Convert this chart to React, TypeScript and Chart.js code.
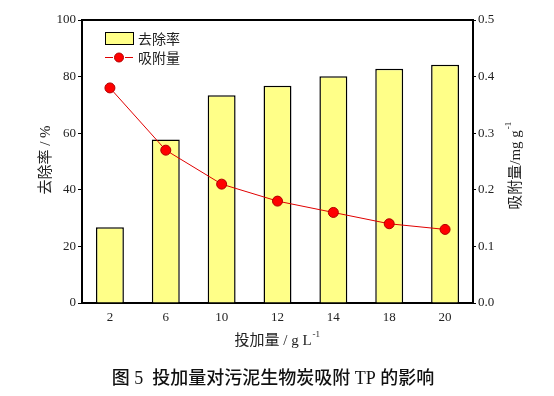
import React, { useEffect, useRef } from 'react';
import { Chart, registerables } from 'chart.js';
Chart.register(...registerables);

const categories = ['2', '6', '10', '12', '14', '18', '20'];
const removalRate = [26.8, 57.8, 73.4, 76.8, 80.1, 82.8, 84.2];
const adsorption = [0.38, 0.27, 0.21, 0.18, 0.16, 0.14, 0.13];
const barLabel = '去除率';
const lineLabel = '吸附量';
const leftTitle = '去除率 / %';
const rightTitle = '吸附量/mg g';
const xTitle = '投加量 / g L';
const caption = '图 5  投加量对污泥生物炭吸附 TP 的影响';

const SERIF = "'Liberation Serif', 'Times New Roman', 'Noto Sans CJK SC', serif";
const CJK = "'Noto Sans CJK SC', 'Liberation Sans', sans-serif";

const decorPlugin = {
  id: 'decor',
  afterDraw(chart: any) {
    const { ctx, chartArea } = chart;
    const { left, right, top } = chartArea;
    ctx.save();
    // top border
    ctx.strokeStyle = '#000';
    ctx.lineWidth = 2;
    ctx.beginPath();
    ctx.moveTo(left - 1, top);
    ctx.lineTo(right + 1, top);
    ctx.stroke();

    // legend
    const lx = left + 23;
    ctx.fillStyle = 'rgb(255,255,136)';
    ctx.fillRect(lx, 32, 28, 12);
    ctx.strokeStyle = '#000';
    ctx.lineWidth = 1;
    ctx.strokeRect(lx + 0.5, 32.5, 28, 12);
    ctx.fillStyle = '#222';
    ctx.font = `14px ${CJK}`;
    ctx.textAlign = 'left';
    ctx.textBaseline = 'middle';
    ctx.fillText(barLabel, lx + 33, 38.5);
    ctx.strokeStyle = '#e00000';
    ctx.beginPath();
    ctx.moveTo(lx, 57.5);
    ctx.lineTo(lx + 8, 57.5);
    ctx.moveTo(lx + 20, 57.5);
    ctx.lineTo(lx + 28, 57.5);
    ctx.stroke();
    ctx.fillStyle = '#ff0000';
    ctx.beginPath();
    ctx.arc(lx + 14, 57.5, 4.5, 0, Math.PI * 2);
    ctx.fill();
    ctx.strokeStyle = '#b00000';
    ctx.stroke();
    ctx.fillStyle = '#222';
    ctx.fillText(lineLabel, lx + 33, 57.5);

    // left title
    ctx.save();
    ctx.translate(46, 160);
    ctx.rotate(-Math.PI / 2);
    ctx.textAlign = 'center';
    ctx.font = `15px ${SERIF}`;
    ctx.fillStyle = '#222';
    ctx.fillText(leftTitle, 0, 0);
    ctx.restore();

    // right title
    ctx.save();
    ctx.translate(516, 166);
    ctx.rotate(-Math.PI / 2);
    ctx.font = `15px ${SERIF}`;
    ctx.fillStyle = '#222';
    const rw = ctx.measureText(rightTitle).width;
    ctx.textAlign = 'left';
    ctx.fillText(rightTitle, -rw / 2 - 4, 0);
    ctx.font = `9px ${SERIF}`;
    ctx.fillText('-1', rw / 2 - 3, -7);
    ctx.restore();

    // x title
    ctx.font = `15px ${SERIF}`;
    ctx.fillStyle = '#222';
    const xw = ctx.measureText(xTitle).width;
    const xs = 277 - xw / 2 - 4;
    ctx.textAlign = 'left';
    ctx.fillText(xTitle, xs, 341);
    ctx.font = `9px ${SERIF}`;
    ctx.fillText('-1', xs + xw + 1, 335);

    // caption
    ctx.font = `500 18px ${SERIF}`;
    ctx.textAlign = 'center';
    ctx.fillStyle = '#111';
    ctx.fillText(caption, 273, 379);
    ctx.restore();
  },
};

export default function App() {
  const ref = useRef<HTMLCanvasElement>(null);
  useEffect(() => {
    document.body.style.margin = '0';
    const chart = new Chart(ref.current as HTMLCanvasElement, {
      type: 'bar',
      data: {
        labels: categories,
        datasets: [
          {
            type: 'line',
            label: lineLabel,
            data: adsorption,
            yAxisID: 'y1',
            borderColor: '#e00000',
            borderWidth: 1,
            backgroundColor: '#ff0000',
            pointBackgroundColor: '#ff0000',
            pointBorderColor: '#b00000',
            pointBorderWidth: 1,
            pointRadius: 5,
            tension: 0,
            order: 0,
          } as any,
          {
            type: 'bar',
            label: barLabel,
            data: removalRate,
            yAxisID: 'y',
            backgroundColor: 'rgb(255,255,136)',
            borderColor: '#000',
            borderWidth: 1.5,
            barPercentage: 0.5,
            categoryPercentage: 1,
            order: 1,
          },
        ],
      },
      options: {
        responsive: false,
        animation: false,
        layout: { padding: { left: 0, right: 0, top: 20, bottom: 0 } },
        plugins: { legend: { display: false }, tooltip: { enabled: false } },
        scales: {
          x: {
            offset: true,
            grid: { display: false, drawTicks: false },
            border: { color: '#000', width: 2 },
            ticks: { color: '#222', font: { family: SERIF, size: 13 }, padding: 7 },
            afterFit(s: any) { s.height = 93; },
          },
          y: {
            position: 'left',
            min: 0,
            max: 100,
            grid: { drawOnChartArea: false, tickLength: 4, color: '#000', lineWidth: 1 },
            border: { color: '#000', width: 2 },
            ticks: { stepSize: 20, color: '#222', font: { family: SERIF, size: 13 }, padding: 2 },
            afterFit(s: any) { s.width = 82; },
          },
          y1: {
            position: 'right',
            min: 0,
            max: 0.5,
            grid: { drawOnChartArea: false, tickLength: 3, color: '#000', lineWidth: 1 },
            border: { color: '#000', width: 2 },
            ticks: {
              stepSize: 0.1,
              color: '#222',
              font: { family: SERIF, size: 13 },
              padding: 2,
              callback: (v: any) => Number(v).toFixed(1),
            },
            afterFit(s: any) { s.width = 81; },
          },
        },
      },
      plugins: [decorPlugin],
    });
    return () => chart.destroy();
  }, []);
  return <canvas ref={ref} width={554} height={396} style={{ display: 'block' }} />;
}
